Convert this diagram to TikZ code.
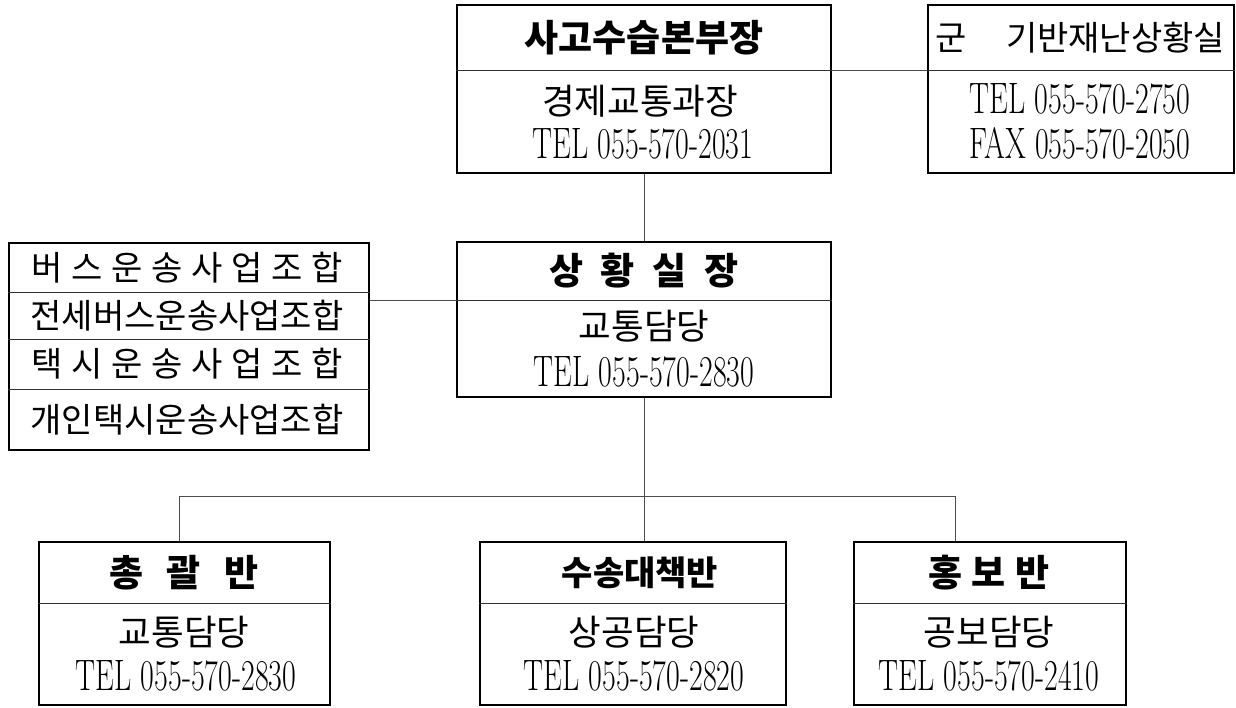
\documentclass[tikz,border=0pt]{standalone}
\usepackage{fontspec}
\newfontfamily\kr{Noto Sans CJK KR}
\newcommand{\telline}[1]{\scalebox{0.68}[1]{\fontsize{44}{48}\selectfont #1}}
\newcommand{\spreadbox}[2]{\makebox[#1][s]{#2}}
\begin{document}
\begin{tikzpicture}[x=1pt,y=-1pt,
  box/.style={draw=black, line width=2.2pt, inner sep=0pt},
  divline/.style={draw=black!80, line width=1pt},
  conn/.style={draw=black!70, line width=1pt},
  ttl/.style={font=\kr\bfseries\fontsize{37}{40}\selectfont, inner sep=0pt},
  body/.style={font=\kr\fontsize{35.5}{40}\selectfont, inner sep=0pt},
  tel/.style={inner sep=0pt},
  rowtxt/.style={font=\kr\fontsize{34}{38}\selectfont, inner sep=0pt}]
\useasboundingbox (0,0) rectangle (1236,707);
\fill[white] (0,0) rectangle (1236,707);

% boxes
\node[box, minimum width=374pt, minimum height=168pt] (top) at (644,89) {};
\node[box, minimum width=306pt, minimum height=168pt] (rbox) at (1081,89) {};
\node[box, minimum width=374pt, minimum height=155pt] (mid) at (644,319.5) {};
\node[box, minimum width=360pt, minimum height=207pt] (lbox) at (189,346.5) {};
\node[box, minimum width=291pt, minimum height=163pt] (b1) at (184.5,623.5) {};
\node[box, minimum width=306pt, minimum height=163pt] (b2) at (633,623.5) {};
\node[box, minimum width=272pt, minimum height=163pt] (b3) at (990,623.5) {};

% dividers
\coordinate (tdiv) at (0,70);
\coordinate (mdiv) at (0,300);
\coordinate (bdiv) at (0,603);
\draw[divline] (top.west |- tdiv) -- (top.east |- tdiv);
\draw[divline] (rbox.west |- tdiv) -- (rbox.east |- tdiv);
\draw[divline] (mid.west |- mdiv) -- (mid.east |- mdiv);
\draw[divline] (lbox.west |- 0,292) -- (lbox.east |- 0,292);
\draw[divline] (lbox.west |- 0,339) -- (lbox.east |- 0,339);
\draw[divline] (lbox.west |- 0,389) -- (lbox.east |- 0,389);
\draw[divline] (b1.west |- bdiv) -- (b1.east |- bdiv);
\draw[divline] (b2.west |- bdiv) -- (b2.east |- bdiv);
\draw[divline] (b3.west |- bdiv) -- (b3.east |- bdiv);

% connectors
\coordinate (d1) at (179,496);
\coordinate (d3) at (955,496);
\draw[conn] (top.east |- tdiv) -- (rbox.west |- tdiv);
\draw[conn] (lbox.east |- mdiv) -- (mid.west |- mdiv);
\draw[conn] (top.south) -- (mid.north);
\draw[conn] (mid.south) -- (b2.north -| mid.south);
\draw[conn] (b1.north -| d1) -- (d1) -- (d3) -- (b3.north -| d3);

% texts: top
\node[ttl] (t1) at (644,38) {사고수습본부장};
\node[body] (t2) at (640,101) {경제교통과장};
\node[tel] (t3) at (643,144) {\telline{TEL 055-570-2031}};
% right
\node[body, font=\kr\fontsize{34}{38}\selectfont] (r1) at (1080,38) {\spreadbox{290pt}{군 기반재난상황실}};
\node[tel] (r2) at (1080,99) {\telline{TEL 055-570-2750}};
\node[tel] (r3) at (1080,143) {\telline{FAX 055-570-2050}};
% mid
\node[ttl] (m1) at (644,271) {\spreadbox{190pt}{상 황 실 장}};
\node[body] (m2) at (644,326) {교통담당};
\node[tel] (m3) at (644,372) {\telline{TEL 055-570-2830}};
% left
\node[rowtxt] (l1) at (187,268) {\spreadbox{312pt}{버 스 운 송 사 업 조 합}};
\node[rowtxt] (l2) at (187,316) {전세버스운송사업조합};
\node[rowtxt] (l3) at (187,364) {\spreadbox{312pt}{택 시 운 송 사 업 조 합}};
\node[rowtxt] (l4) at (187,420) {개인택시운송사업조합};
% bottom
\node[ttl] (a1) at (184,573) {\spreadbox{150pt}{총 괄 반}};
\node[body] (a2) at (184,632) {교통담당};
\node[tel] (a3) at (186,676) {\telline{TEL 055-570-2830}};
\node[ttl, font=\kr\bfseries\fontsize{34}{38}\selectfont] (c1) at (640,573) {수송대책반};
\node[body] (c2) at (634,632) {상공담당};
\node[tel] (c3) at (634,676) {\telline{TEL 055-570-2820}};
\node[ttl] (e1) at (989,573) {\spreadbox{122pt}{홍 보 반}};
\node[body] (e2) at (989,632) {공보담당};
\node[tel] (e3) at (989,676) {\telline{TEL 055-570-2410}};
\end{tikzpicture}
\end{document}
